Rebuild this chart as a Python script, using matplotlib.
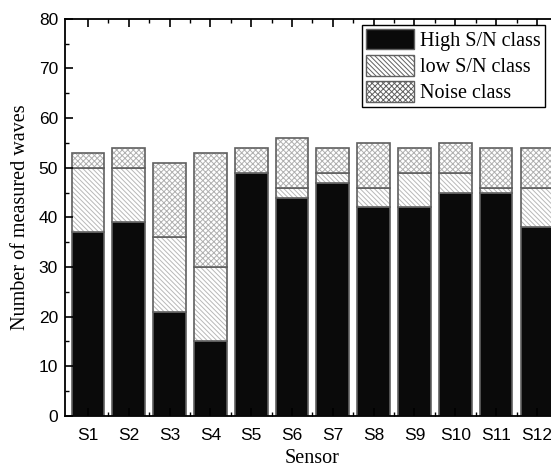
"""Stacked bar chart of measured waves per sensor"""

import numpy as np
from matplotlib import pyplot as plt
from matplotlib.ticker import MultipleLocator

plt.rcParams['hatch.linewidth'] = 0.7

# data
sensors = ['S1', 'S2', 'S3', 'S4', 'S5', 'S6',
           'S7', 'S8', 'S9', 'S10', 'S11', 'S12']
high_sn = [37, 39, 21, 15, 49, 44, 47, 42, 42, 45, 45, 38]
low_sn = [13, 11, 15, 15, 0, 2, 2, 4, 7, 4, 1, 8]
noise = [3, 4, 15, 23, 5, 10, 5, 9, 5, 6, 8, 8]

x = np.arange(1, len(sensors) + 1)
high = np.array(high_sn)
low = np.array(low_sn)

fig = plt.figure(figsize=(5.51, 4.70), dpi=100)
ax = fig.add_axes([0.118, 0.115, 0.898, 0.845])

edge = '#606060'
ax.bar(x, high_sn, width=0.8, color='#0a0a0a', edgecolor=edge,
       linewidth=1.2, label='High S/N class')
ax.bar(x, low_sn, width=0.8, bottom=high, color='white', edgecolor='#b8b8b8',
       hatch='\\' * 7, linewidth=0, label='low S/N class')
ax.bar(x, low_sn, width=0.8, bottom=high, color='none', edgecolor=edge,
       linewidth=1.2)
ax.bar(x, noise, width=0.8, bottom=high + low, color='white',
       edgecolor='#b0b0b0', hatch='x' * 6, linewidth=0, label='Noise class')
ax.bar(x, noise, width=0.8, bottom=high + low, color='none', edgecolor=edge,
       linewidth=1.2)

ax.set_xlim(0.44, 12.56)
ax.set_ylim(0, 80)
ax.set_xticks(x)
ax.set_xticklabels(sensors, fontfamily='Liberation Sans', fontsize=12.5)
ax.set_xticks(x[:-1] + 0.5, minor=True)
ax.yaxis.set_major_locator(MultipleLocator(10))
ax.yaxis.set_minor_locator(MultipleLocator(5))
for lab in ax.get_yticklabels():
    lab.set_fontfamily('Liberation Sans')
    lab.set_fontsize(12.5)

ax.tick_params(which='both', direction='in', top=True, right=True)
ax.tick_params(which='major', length=6, width=1.2, pad=5)
ax.tick_params(axis='x', which='major', pad=9)
ax.tick_params(which='minor', length=3, width=1.0)
for sp in ax.spines.values():
    sp.set_linewidth(1.3)

ax.set_xlabel('Sensor', fontfamily='Liberation Serif', fontsize=14.5, labelpad=4)
ax.set_ylabel('Number of measured waves', fontfamily='Liberation Serif',
              fontsize=14.5, labelpad=6)

leg = ax.legend(loc='upper right', bbox_to_anchor=(0.97, 0.985),
                prop={'family': 'Liberation Serif', 'size': 14.5},
                fancybox=False, edgecolor='black', framealpha=1,
                handlelength=2.4, handleheight=1.2, handletextpad=0.3,
                labelspacing=0.2, borderpad=0.2, borderaxespad=0)
leg.get_frame().set_linewidth(1.0)
for h in leg.legend_handles:
    h.set_edgecolor(edge)
    h.set_linewidth(1.0)

fig.savefig('out.png', dpi=100)
